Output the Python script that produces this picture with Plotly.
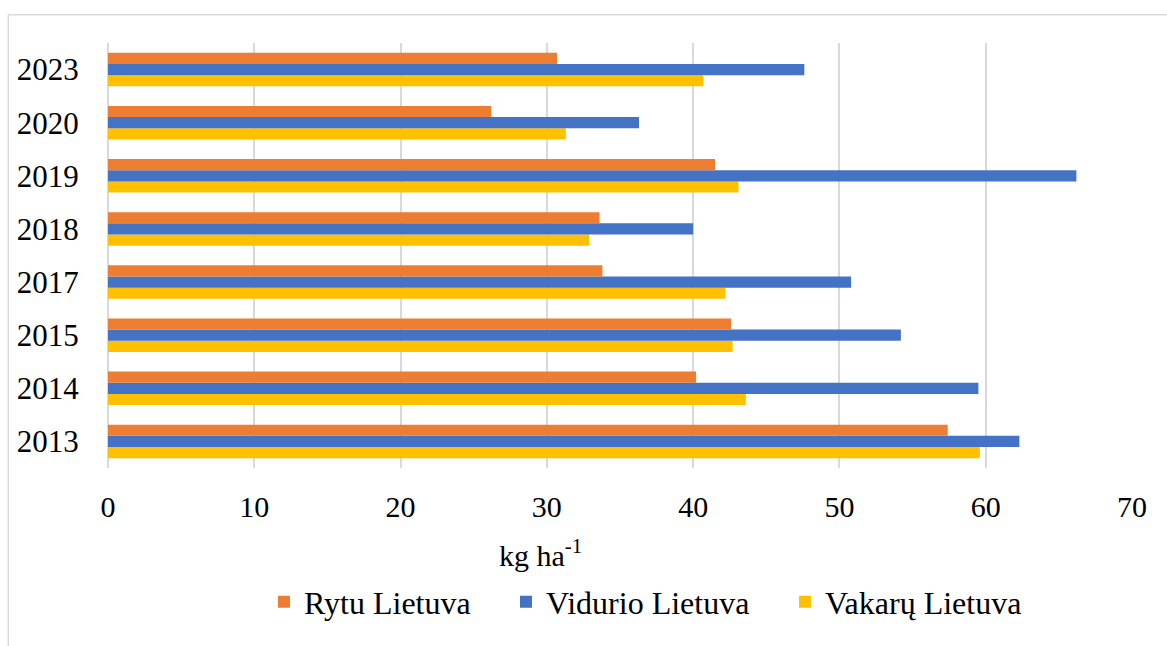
import plotly.graph_objects as go

# Years (bottom to top) and values for each region, kg ha-1
years = ["2013", "2014", "2015", "2017", "2018", "2019", "2020", "2023"]
rytu = [57.4, 40.2, 42.6, 33.8, 33.6, 41.5, 26.2, 30.7]
vidurio = [62.3, 59.5, 54.2, 50.8, 40.0, 66.2, 36.3, 47.6]
vakaru = [59.6, 43.6, 42.7, 42.2, 32.9, 43.1, 31.3, 40.7]

series_names = ["Rytu Lietuva", "Vidurio Lietuva", "Vakarų Lietuva"]
series_values = [rytu, vidurio, vakaru]
series_colors = ["#ED7D31", "#4472C4", "#FFC000"]
legend_ids = ["legend", "legend2", "legend3"]
legend_left_px = [264, 506, 785]

FONT = "Liberation Serif"
GRID = "#D9D9D9"

W, H = 1167, 646
L, R, T, B = 108, 35, 43, 178
plot_w = W - L - R
plot_h = H - T - B


def px_x(p):
    return (p - L) / plot_w


def px_y(p):
    return (H - B - p) / plot_h


fig = go.Figure()
# Added bottom-up so that Rytu sits on top within each year group
for name, vals, col, lg in reversed(list(zip(series_names, series_values,
                                             series_colors, legend_ids))):
    fig.add_trace(go.Bar(
        y=years, x=vals, name=name, orientation="h", legend=lg,
        marker=dict(color=col, line=dict(width=0)),
    ))

# One single-entry legend per region, laid out in a row under the axis title
legend_layout = {}
for lg, left in zip(legend_ids, legend_left_px):
    legend_layout[lg] = dict(
        orientation="h",
        x=px_x(left), xanchor="left", y=px_y(602), yanchor="middle",
        font=dict(family=FONT, size=32, color="black"),
        bgcolor="rgba(0,0,0,0)", borderwidth=0,
    )

fig.update_layout(
    width=W, height=H,
    margin=dict(l=L, r=R, t=T, b=B),
    paper_bgcolor="white", plot_bgcolor="white",
    barmode="group", bargap=0.37, bargroupgap=0,
    font=dict(family=FONT, size=30, color="black"),
    showlegend=True,
    **legend_layout,
    xaxis=dict(
        range=[0, 70], dtick=10, tick0=0,
        showgrid=True, gridcolor=GRID, gridwidth=1.5,
        zeroline=True, zerolinecolor=GRID, zerolinewidth=1.5,
        showline=False,
        ticks="outside", ticklen=12, tickcolor="rgba(0,0,0,0)",
        tickfont=dict(family=FONT, size=30, color="black"),
    ),
    yaxis=dict(
        type="category", categoryorder="array", categoryarray=years,
        showgrid=False, zeroline=False, showline=False,
        ticks="outside", ticklen=22, tickcolor="rgba(0,0,0,0)",
        tickfont=dict(family=FONT, size=31, color="black"),
    ),
    annotations=[dict(
        text="kg ha<sup>-1</sup>", xref="paper", yref="paper",
        x=px_x(540), y=px_y(553), xanchor="center", yanchor="middle",
        showarrow=False, font=dict(family=FONT, size=30, color="black"),
    )],
    shapes=[
        # chart-area frame: left and top edges
        dict(type="line", xref="paper", yref="paper",
             x0=px_x(8.3), x1=px_x(8.3), y0=px_y(14.7), y1=px_y(660),
             line=dict(color=GRID, width=1.5)),
        dict(type="line", xref="paper", yref="paper",
             x0=px_x(8.3), x1=px_x(1180), y0=px_y(14.7), y1=px_y(14.7),
             line=dict(color=GRID, width=1.5)),
    ],
)

fig.write_html("out.html")
